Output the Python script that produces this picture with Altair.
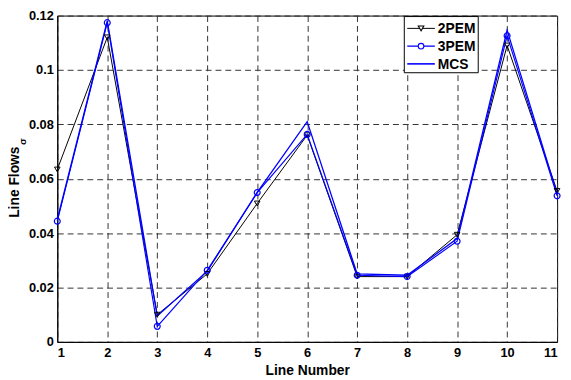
import altair as alt
import pandas as pd

line_numbers = list(range(1, 12))
pem2 = [0.0634, 0.1120, 0.0100, 0.0250, 0.0509, 0.0760, 0.0240, 0.0240, 0.0394, 0.1090, 0.0555]
pem3 = [0.0444, 0.1174, 0.0057, 0.0263, 0.0549, 0.0763, 0.0245, 0.0240, 0.0370, 0.1126, 0.0537]
mcs = [0.0450, 0.1180, 0.0095, 0.0260, 0.0550, 0.0810, 0.0250, 0.0245, 0.0380, 0.1146, 0.0545]
series_names = ["2PEM", "3PEM", "MCS"]
series_colors = ["#000000", "#0000ff", "#0000ff"]
series_widths = [1.0, 1.3, 1.6]
series_shapes = ["triangle-down", "circle", None]
y_ticks = [0, 0.02, 0.04, 0.06, 0.08, 0.1, 0.12]

rows = []
for name, vals in zip(series_names, [pem2, pem3, mcs]):
    for x, v in zip(line_numbers, vals):
        rows.append({"line": x, "flow": v, "series": name})
df = pd.DataFrame(rows)

FONT = "Liberation Sans"

xenc = alt.X("line:Q", scale=alt.Scale(domain=[1, 11], nice=False, zero=False),
             axis=alt.Axis(values=line_numbers, format="d", title="Line Number",
                           titlePadding=4, labelPadding=5))
yenc = alt.Y("flow:Q", scale=alt.Scale(domain=[0, 0.12], nice=False),
             axis=alt.Axis(values=y_ticks, format="~g", title="Line Flows",
                           titleX=-43, titleY=168.5, titleBaseline="middle",
                           titleAlign="center", titleAngle=270))

color_scale = alt.Scale(domain=series_names, range=series_colors)

lines = alt.Chart(df).mark_line().encode(
    x=xenc, y=yenc,
    color=alt.Color("series:N", scale=color_scale, legend=None),
    strokeWidth=alt.StrokeWidth("series:N", scale=alt.Scale(domain=series_names, range=series_widths), legend=None),
)

pts2 = alt.Chart(df[df.series == "2PEM"]).mark_point(
    shape="triangle-down", filled=False, size=32, strokeWidth=1, color="#000000", opacity=1
).encode(x="line:Q", y="flow:Q")

pts3 = alt.Chart(df[df.series == "3PEM"]).mark_point(
    shape="circle", filled=False, size=36, strokeWidth=1.2, color="#0000ff", opacity=1
).encode(x="line:Q", y="flow:Q")

# hand-built legend box (native legends do not render here)
one = pd.DataFrame({"k": [0]})
legend_layers = [
    alt.Chart(one).mark_rect(fill="#ffffff", stroke="#000000", strokeWidth=1).encode(
        x=alt.value(352), x2=alt.value(427), y=alt.value(1), y2=alt.value(58))
]
for i, (name, col, w, shp) in enumerate(zip(series_names, series_colors, series_widths, series_shapes)):
    yy = 13 + 18 * i
    legend_layers.append(alt.Chart(one).mark_rule(color=col, strokeWidth=w).encode(
        x=alt.value(355), x2=alt.value(383), y=alt.value(yy)))
    if shp:
        legend_layers.append(alt.Chart(one).mark_point(
            shape=shp, filled=False, size=32, strokeWidth=1.1, color=col, opacity=1,
            fill="#ffffff").encode(x=alt.value(369), y=alt.value(yy)))
    legend_layers.append(alt.Chart(pd.DataFrame({"t": [name]})).mark_text(
        align="left", baseline="middle", font=FONT, fontSize=14, fontWeight="bold",
        color="#000000").encode(text="t:N", x=alt.value(386), y=alt.value(yy + 1)))

sigma = alt.Chart(pd.DataFrame({"t": ["σ"]})).mark_text(
    angle=270, font=FONT, fontSize=10, fontWeight="bold", color="#000000"
).encode(text="t:N", x=alt.value(-35), y=alt.value(128))

chart = alt.layer(lines, pts2, pts3, *legend_layers, sigma).properties(
    width=507, height=331,
    autosize=alt.AutoSizeParams(type="none"),
    padding={"left": 50, "top": 5, "right": 6, "bottom": 36},
    background="#ffffff",
).configure_view(stroke="#000000", strokeWidth=1).configure_axis(
    labelFont=FONT, labelFontSize=13, labelFontWeight="bold", labelColor="#000000",
    titleFont=FONT, titleFontSize=14, titleFontWeight="bold", titleColor="#000000",
    domainColor="#000000", domainWidth=1, tickSize=0, labelPadding=4,
    gridColor="#333333", gridDash=[6, 4], gridWidth=1, gridOpacity=1,
)

chart.save("out.html", embed_options={"renderer": "svg", "actions": False})
